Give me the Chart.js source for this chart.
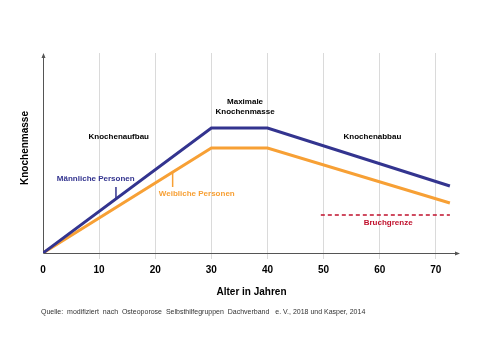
<!DOCTYPE html>
<html>
<head>
<meta charset="utf-8">
<script src="https://cdn.jsdelivr.net/npm/chart.js@4"></script>
<style>
  html, body { margin: 0; padding: 0; background: #fff; }
  #wrap { width: 480px; height: 360px; }
</style>
</head>
<body>
<div id="wrap"><canvas id="chart" width="480" height="360"></canvas></div>
<script>
// Data (arbitrary bone-mass units 0..100)
const ageTicks = [0, 10, 20, 30, 40, 50, 60, 70];
const ages = [0, 30, 40, 72.5];
const maleMass = [0, 62.5, 62.5, 33.5];
const femaleMass = [0, 52.5, 52.5, 25];
const fractureAges = [49.5, 72.5];
const fractureMass = [19, 19];

const FONT = "'Liberation Sans', Arial, sans-serif";
const BLUE = '#33348f';
const ORANGE = '#f7a035';
const RED = '#c0102c';

function pts(xs, ys){ return xs.map((x,i)=>({ x, y: ys[i] })); }

// annotation texts, placed in data coordinates
const notes = [
  { text: ['Knochenaufbau'], x: 13.5, y: 58, color: '#000' },
  { text: ['Maximale', 'Knochenmasse'], x: 36, y: 75.5, color: '#000' },
  { text: ['Knochenabbau'], x: 58.7, y: 58, color: '#000' },
  { text: ['Männliche Personen'], x: 9.4, y: 37, color: BLUE },
  { text: ['Weibliche Personen'], x: 27.4, y: 29.7, color: ORANGE },
  { text: ['Bruchgrenze'], x: 61.5, y: 15, color: RED }
];
// small pointer ticks from labels to the lines
const pointers = [
  { x: 13, y1: 27.5, y2: 33, color: BLUE },
  { x: 23.1, y1: 33, y2: 40.2, color: ORANGE }
];

const overlay = {
  id: 'overlay',
  beforeDatasetsDraw(chart){
    const { ctx, chartArea: a } = chart;
    ctx.save();
    ctx.strokeStyle = '#555';
    ctx.fillStyle = '#555';
    ctx.lineWidth = 1;
    // axes
    ctx.beginPath();
    ctx.moveTo(a.left + 0.5, a.bottom + 0.5); ctx.lineTo(a.right - 2, a.bottom + 0.5);
    ctx.moveTo(a.left + 0.5, a.bottom + 0.5); ctx.lineTo(a.left + 0.5, a.top + 2);
    ctx.stroke();
    // arrow heads
    ctx.beginPath();
    ctx.moveTo(a.right, a.bottom + 0.5); ctx.lineTo(a.right - 5, a.bottom - 1.5); ctx.lineTo(a.right - 5, a.bottom + 2.5); ctx.closePath();
    ctx.moveTo(a.left + 0.5, a.top); ctx.lineTo(a.left - 1.5, a.top + 5); ctx.lineTo(a.left + 2.5, a.top + 5); ctx.closePath();
    ctx.fill();
    ctx.restore();
  },
  afterDraw(chart){
    const { ctx, chartArea: a, scales: { x, y } } = chart;
    ctx.save();
    // pointers
    pointers.forEach(p => {
      ctx.strokeStyle = p.color; ctx.lineWidth = 1.5;
      ctx.beginPath();
      ctx.moveTo(x.getPixelForValue(p.x), y.getPixelForValue(p.y1));
      ctx.lineTo(x.getPixelForValue(p.x), y.getPixelForValue(p.y2));
      ctx.stroke();
    });
    // annotations
    ctx.font = 'bold 8px ' + FONT;
    ctx.textAlign = 'center';
    ctx.textBaseline = 'middle';
    notes.forEach(n => {
      ctx.fillStyle = n.color;
      const px = x.getPixelForValue(n.x), py = y.getPixelForValue(n.y);
      n.text.forEach((t, i) => ctx.fillText(t, px, py + i * 10));
    });
    // y axis title
    ctx.save();
    ctx.translate(25, (a.top + a.bottom) / 2 - 5);
    ctx.rotate(-Math.PI / 2);
    ctx.font = 'bold 10px ' + FONT;
    ctx.fillStyle = '#000';
    ctx.fillText('Knochenmasse', 0, 0);
    ctx.restore();
    // source line
    ctx.font = '7px ' + FONT;
    ctx.fillStyle = '#333';
    ctx.textAlign = 'left';
    ctx.fillText('Quelle:  modifiziert  nach  Osteoporose  Selbsthilfegruppen  Dachverband   e. V., 2018 und Kasper, 2014', 41, 312);
    ctx.restore();
  }
};

new Chart(document.getElementById('chart'), {
  type: 'line',
  data: {
    datasets: [
      { label: 'Männliche Personen', data: pts(ages, maleMass), borderColor: BLUE, borderWidth: 3, pointRadius: 0, tension: 0 },
      { label: 'Weibliche Personen', data: pts(ages, femaleMass), borderColor: ORANGE, borderWidth: 3, pointRadius: 0, tension: 0 },
      { label: 'Bruchgrenze', data: pts(fractureAges, fractureMass), borderColor: RED, borderWidth: 1.5, borderDash: [4, 3], pointRadius: 0, tension: 0 }
    ]
  },
  options: {
    responsive: false,
    animation: false,
    layout: { padding: { left: 43, right: 20, top: 53, bottom: 62 } },
    plugins: { legend: { display: false }, tooltip: { enabled: false } },
    scales: {
      x: {
        type: 'linear',
        min: 0,
        max: 74.3,
        afterBuildTicks: s => { s.ticks = ageTicks.map(v => ({ value: v })); },
        border: { display: false },
        grid: {
          color: c => (c.tick && c.tick.value === 0) ? 'rgba(0,0,0,0)' : '#dadada',
          tickLength: 6,
          lineWidth: 1
        },
        ticks: { color: '#000', padding: 5, font: { family: FONT, size: 10, weight: 'bold' }, maxRotation: 0 },
        title: { display: true, text: 'Alter in Jahren', color: '#000', padding: { top: 5, bottom: 0 }, font: { family: FONT, size: 10, weight: 'bold' } }
      },
      y: { display: false, min: 0, max: 100 }
    }
  },
  plugins: [overlay]
});
</script>
</body>
</html>
